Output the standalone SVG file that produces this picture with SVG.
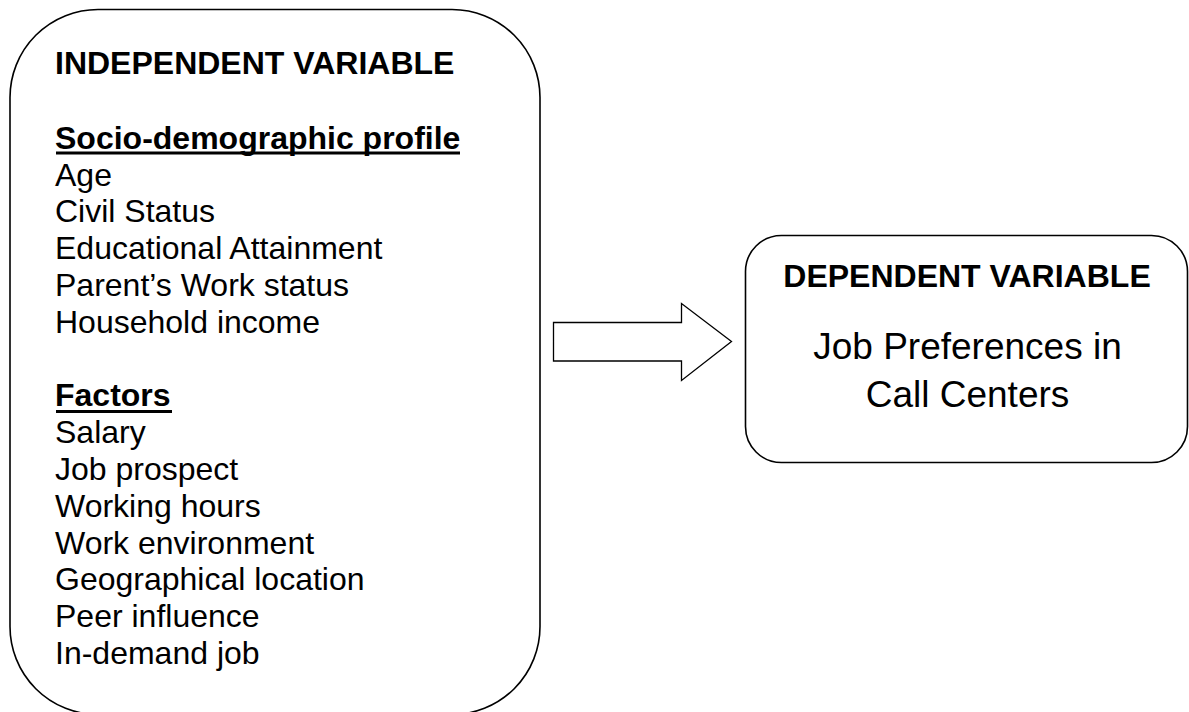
<svg xmlns="http://www.w3.org/2000/svg" width="1189" height="712" viewBox="0 0 1189 712">
<style>
.box{fill:#fff;stroke:#000;stroke-width:1.6}
.t{font-family:"Liberation Sans",Arial,sans-serif;font-size:32px;fill:#000}
.b{font-weight:bold}
.ul{stroke:#000;stroke-width:3}
.big{font-family:"Liberation Sans",Arial,sans-serif;font-size:37px;fill:#000;text-anchor:middle}
</style>
<rect width="1189" height="712" fill="#fff"/>
<g id="independent">
<rect class="box" x="10" y="9.5" width="530" height="705" rx="88" ry="88"/>
<text class="t b" x="55" y="74">INDEPENDENT VARIABLE</text>
<text class="t b" x="55" y="148.5">Socio-demographic profile</text>
<line class="ul" x1="56" y1="153" x2="460" y2="153"/>
<text class="t" x="55" y="185.5">Age</text>
<text class="t" x="55" y="222.3">Civil Status</text>
<text class="t" x="55" y="259.1">Educational Attainment</text>
<text class="t" x="55" y="295.9">Parent’s Work status</text>
<text class="t" x="55" y="332.7">Household income</text>
<text class="t b" x="55" y="406.3">Factors</text>
<line class="ul" x1="56" y1="411.5" x2="172" y2="411.5"/>
<text class="t" x="55" y="443.1">Salary</text>
<text class="t" x="55" y="479.9">Job prospect</text>
<text class="t" x="55" y="516.7">Working hours</text>
<text class="t" x="55" y="553.5">Work environment</text>
<text class="t" x="55" y="590.3">Geographical location</text>
<text class="t" x="55" y="627.1">Peer influence</text>
<text class="t" x="55" y="663.9">In-demand job</text>
</g>
<g id="connectors">
<polygon points="553.5,322.5 681.5,322.5 681.5,303.5 731.5,341.5 681.5,380.5 681.5,361 553.5,361" fill="#fff" stroke="#000" stroke-width="1.3" stroke-linejoin="miter"/>
</g>
<g id="dependent">
<rect class="box" x="745.5" y="235.5" width="442" height="227" rx="36" ry="36"/>
<text class="t b" x="967" y="287" text-anchor="middle">DEPENDENT VARIABLE</text>
<text class="big" x="967.5" y="359">Job Preferences in</text>
<text class="big" x="967.5" y="407">Call Centers</text>
</g>
</svg>
